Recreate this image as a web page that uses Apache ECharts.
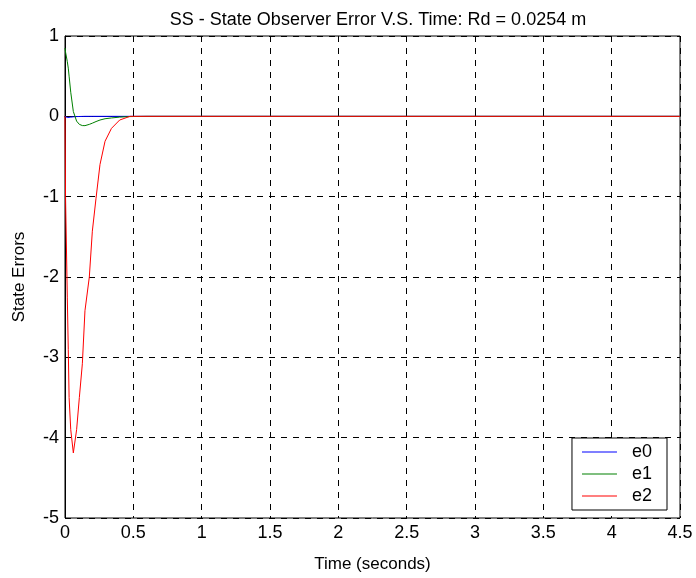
<!DOCTYPE html>
<html><head><meta charset="utf-8">
<script src="https://cdn.jsdelivr.net/npm/echarts@6/dist/echarts.min.js"></script>
<style>html,body{margin:0;padding:0;background:#fff}#c{width:696px;height:578px}</style>
</head><body><div id="c"></div>
<script>
const time = [0, 0.004, 0.017, 0.024, 0.03, 0.042, 0.061, 0.085, 0.105, 0.127, 0.146, 0.178, 0.2, 0.227, 0.256, 0.293, 0.34, 0.4, 0.476, 0.6, 1.0, 2.0, 3.0, 4.5];
const e0 = [0, -0.01, -0.015, -0.015, -0.012, -0.01, -0.006, -0.003, -0.002, -0.001, 0, 0, 0, 0, 0, 0, 0, 0, 0, 0, 0, 0, 0, 0];
const e1 = [0.85, 0.8, 0.68, 0.6, 0.5, 0.3, 0.06, -0.06, -0.1, -0.115, -0.116, -0.1, -0.085, -0.065, -0.046, -0.03, -0.02, -0.01, -0.003, 0, 0, 0, 0, 0];
const e2 = [0, -1.0, -2.26, -2.9, -3.5, -3.9, -4.19, -3.9, -3.5, -3.08, -2.42, -2.0, -1.43, -1.02, -0.6, -0.31, -0.15, -0.046, 0, 0, 0, 0, 0, 0];
const seriesNames = ['e0', 'e1', 'e2'];
const seriesColors = ['#0000ff', '#008000', '#ff0000'];
const xTicks = [0, 0.5, 1, 1.5, 2, 2.5, 3, 3.5, 4, 4.5];
const yTicks = [-5, -4, -3, -2, -1, 0, 1];
const titleText = 'SS - State Observer Error V.S. Time: Rd = 0.0254 m';
const xLabel = 'Time (seconds)';
const yLabel = 'State Errors';

const values = [e0, e1, e2];
const font = 'Liberation Sans, Arial, sans-serif';
const chart = echarts.init(document.getElementById('c'), null, {renderer: 'canvas'});
chart.setOption({
  animation: false,
  backgroundColor: '#fff',
  title: {text: titleText, left: 373, textAlign: 'center', top: 6,
    textStyle: {fontFamily: font, fontSize: 18, fontWeight: 'normal', color: '#000'}},
  grid: {left: 65, right: 16, top: 36, bottom: 56, show: true, borderColor: '#000', borderWidth: 1, backgroundColor: '#fff'},
  legend: {
    data: seriesNames.map(n => ({name: n, icon: 'rect'})), orient: 'vertical', right: 29, top: 438,
    backgroundColor: '#fff', borderColor: '#000', borderWidth: 1,
    padding: [4, 15, 4, 10], itemGap: 2, itemWidth: 35, itemHeight: 1,
    textStyle: {fontFamily: font, fontSize: 18, lineHeight: 20, color: '#000', padding: [0, 0, 0, 10]}
  },
  xAxis: {
    type: 'value', min: xTicks[0], max: xTicks[xTicks.length - 1], interval: 0.5,
    name: xLabel, nameLocation: 'middle', nameGap: 38,
    nameTextStyle: {fontFamily: font, fontSize: 17, color: '#000'},
    axisLine: {lineStyle: {color: '#000'}},
    axisTick: {inside: true, length: 5, lineStyle: {color: '#000'}},
    axisLabel: {fontFamily: font, fontSize: 18, color: '#000', margin: 6},
    splitLine: {show: true, lineStyle: {color: '#000', type: [6, 6], width: 1}}
  },
  yAxis: {
    type: 'value', min: yTicks[0], max: yTicks[yTicks.length - 1], interval: 1,
    name: yLabel, nameLocation: 'middle', nameGap: 37, nameRotate: 90,
    nameTextStyle: {fontFamily: font, fontSize: 17, color: '#000'},
    axisLine: {lineStyle: {color: '#000'}},
    axisTick: {inside: true, length: 5, lineStyle: {color: '#000'}},
    axisLabel: {fontFamily: font, fontSize: 18, color: '#000', margin: 6},
    splitLine: {show: true, lineStyle: {color: '#000', type: [6, 6], width: 1}}
  },
  series: seriesNames.map((n, i) => ({
    name: n, type: 'line', symbol: 'none', showSymbol: false,
    data: time.map((t, j) => [t, values[i][j]]),
    lineStyle: {color: seriesColors[i], width: 1},
    itemStyle: {color: seriesColors[i]},
    z: 3 + i
  }))
});
</script></body></html>
